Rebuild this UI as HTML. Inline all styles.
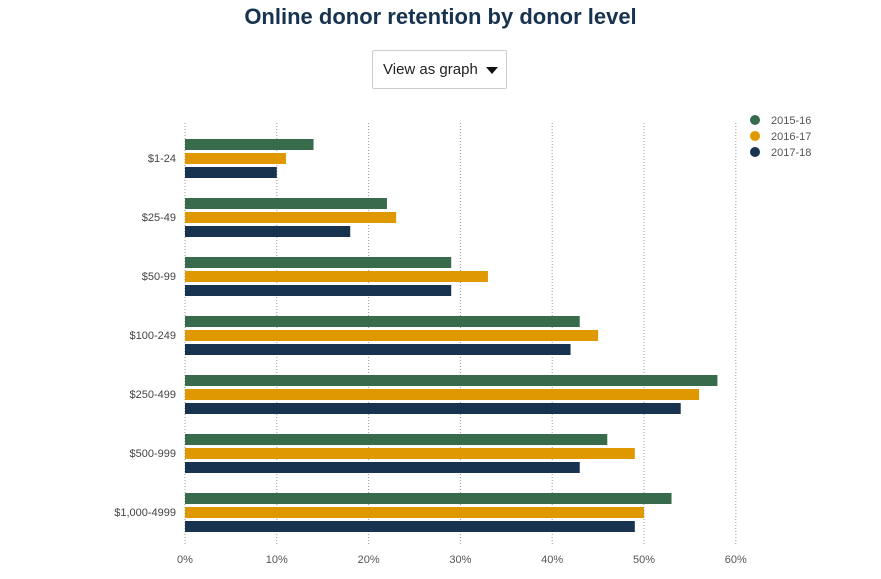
<!DOCTYPE html>
<html><head><meta charset="utf-8"><style>
body{margin:0;width:881px;height:579px;background:#fff;font-family:"Liberation Sans",sans-serif;overflow:hidden;position:relative}
h1{position:absolute;top:4px;left:0;width:881px;text-align:center;margin:0;font-size:22px;font-weight:bold;color:#17334f}
.dd{position:absolute;left:372px;top:50px;width:135px;height:39px;border:1px solid #ccc;border-radius:2px;box-sizing:border-box;font-size:15px;color:#222;line-height:38px;padding-left:10px}
.dd span{position:absolute;right:8px;top:16px;width:0;height:0;border-left:6px solid transparent;border-right:6px solid transparent;border-top:7px solid #111}
</style></head><body>
<h1>Online donor retention by donor level</h1>
<div class="dd">View as graph<span></span></div>
<svg id="c" width="881" height="579" style="position:absolute;left:0;top:0"></svg>
<script>
const categories=["$1-24","$25-49","$50-99","$100-249","$250-499","$500-999","$1,000-4999"];
const series2015=[14,22,29,43,58,46,53];
const series2016=[11,23,33,45,56,49,50];
const series2017=[10,18,29,42,54,43,49];
const seriesNames=["2015-16","2016-17","2017-18"];
const tickValues=[0,10,20,30,40,50,60];
const tickLabels=["0%","10%","20%","30%","40%","50%","60%"];
const colors=["#386b4c","#e09800","#17334f"];
const svg=document.getElementById('c');
const NS="http://www.w3.org/2000/svg";
const x=v=>185+v*9.18;
const yc=i=>158+i*59;
function mk(t,a){const e=document.createElementNS(NS,t);for(const k in a)e.setAttribute(k,a[k]);svg.appendChild(e);return e;}
tickValues.forEach((v,i)=>{
 const l=mk('line',{x1:x(v),x2:x(v),y1:123,y2:545,stroke:'#999','stroke-dasharray':'1,2'});
 
 
 const t=mk('text',{x:x(v),y:563,'text-anchor':'middle','font-size':11,fill:'#555'});
 t.textContent=tickLabels[i];
 
 
});
const all=[series2015,series2016,series2017];
categories.forEach((c,i)=>{
 const t=mk('text',{x:176,y:yc(i)+4,'text-anchor':'end','font-size':11,fill:'#444'});
 t.textContent=c;
 
 
 all.forEach((s,j)=>{
  const r=mk('rect',{x:x(0),y:yc(i)-19+j*14,width:x(s[i])-x(0),height:11,fill:colors[j]});
  
  
 });
});
seriesNames.forEach((n,j)=>{
 const c=mk('circle',{cx:755,cy:120+j*16,r:5,fill:colors[j]});
 
 
 const t=mk('text',{x:771,y:124+j*16,'font-size':11,fill:'#555'});
 t.textContent=n;
 
 
});
</script>
</body></html>
